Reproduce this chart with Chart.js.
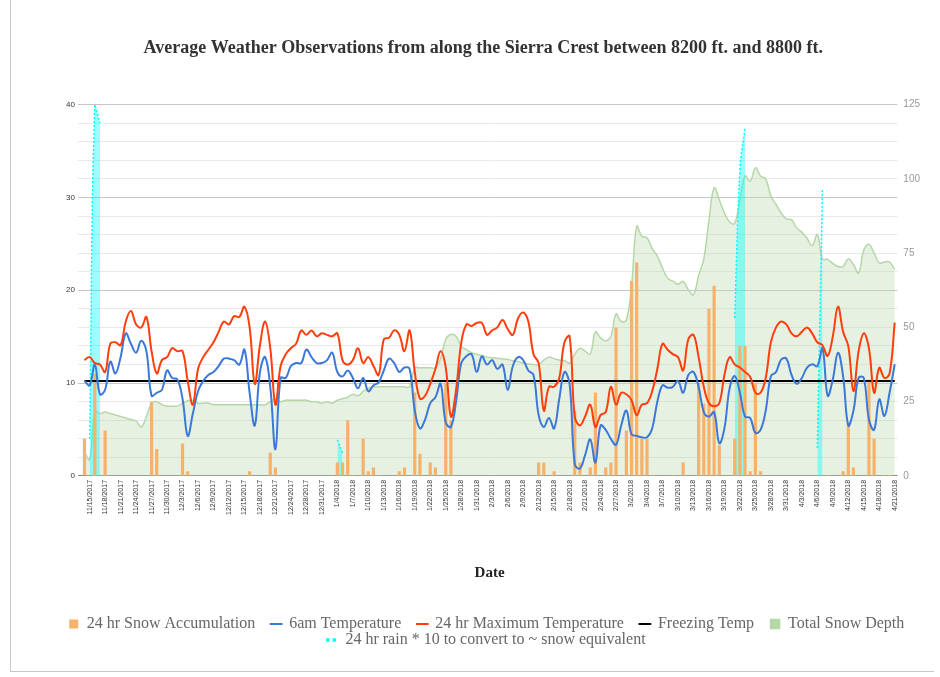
<!DOCTYPE html>
<html>
<head>
<meta charset="utf-8">
<script src="https://cdn.jsdelivr.net/npm/chart.js@4.4.1/dist/chart.umd.min.js"></script>
<style>
  html, body { margin: 0; padding: 0; background: #fff; }
  #wrap { position: relative; width: 940px; height: 677px; }
  #frame { position: absolute; left: 10px; top: 0; width: 923px; height: 671px;
           border-left: 1px solid #c8c8c8; border-bottom: 1px solid #c8c8c8; }
  canvas { position: absolute; left: 0; top: 0; }
</style>
</head>
<body>
<div id="wrap">
  <div id="frame"></div>
  <canvas id="chart" width="940" height="677"></canvas>
</div>
<script>
const _ = null;

// one category per observation day (12/25 and 1/1 missing, 3/3 twice)
const dates = [
  "11/14/2017","11/15/2017","11/16/2017","11/17/2017","11/18/2017","11/19/2017","11/20/2017","11/21/2017","11/22/2017","11/23/2017",
  "11/24/2017","11/25/2017","11/26/2017","11/27/2017","11/28/2017","11/29/2017","11/30/2017","12/1/2017","12/2/2017","12/3/2017",
  "12/4/2017","12/5/2017","12/6/2017","12/7/2017","12/8/2017","12/9/2017","12/10/2017","12/11/2017","12/12/2017","12/13/2017",
  "12/14/2017","12/15/2017","12/16/2017","12/17/2017","12/18/2017","12/19/2017","12/20/2017","12/21/2017","12/22/2017","12/23/2017",
  "12/24/2017","12/26/2017","12/27/2017","12/28/2017","12/29/2017","12/30/2017","12/31/2017","1/2/2018","1/3/2018","1/4/2018",
  "1/5/2018","1/6/2018","1/7/2018","1/8/2018","1/9/2018","1/10/2018","1/11/2018","1/12/2018","1/13/2018","1/14/2018",
  "1/15/2018","1/16/2018","1/17/2018","1/18/2018","1/19/2018","1/20/2018","1/21/2018","1/22/2018","1/23/2018","1/24/2018",
  "1/25/2018","1/26/2018","1/27/2018","1/28/2018","1/29/2018","1/30/2018","1/31/2018","2/1/2018","2/2/2018","2/3/2018",
  "2/4/2018","2/5/2018","2/6/2018","2/7/2018","2/8/2018","2/9/2018","2/10/2018","2/11/2018","2/12/2018","2/13/2018",
  "2/14/2018","2/15/2018","2/16/2018","2/17/2018","2/18/2018","2/19/2018","2/20/2018","2/21/2018","2/22/2018","2/23/2018",
  "2/24/2018","2/25/2018","2/26/2018","2/27/2018","2/28/2018","3/1/2018","3/2/2018","3/3/2018","3/3/2018","3/4/2018",
  "3/5/2018","3/6/2018","3/7/2018","3/8/2018","3/9/2018","3/10/2018","3/11/2018","3/12/2018","3/13/2018","3/14/2018",
  "3/15/2018","3/16/2018","3/17/2018","3/18/2018","3/19/2018","3/20/2018","3/21/2018","3/22/2018","3/23/2018","3/24/2018",
  "3/25/2018","3/26/2018","3/27/2018","3/28/2018","3/29/2018","3/30/2018","3/31/2018","4/1/2018","4/2/2018","4/3/2018",
  "4/4/2018","4/5/2018","4/6/2018","4/7/2018","4/8/2018","4/9/2018","4/10/2018","4/11/2018","4/12/2018","4/13/2018",
  "4/14/2018","4/15/2018","4/16/2018","4/17/2018","4/18/2018","4/19/2018","4/20/2018","4/21/2018"
];

// 24 hr snow accumulation (left axis)
const snowAccum = [
  4, 0, 11, 0, 4.9, 0, 0, 0, 0, 0,
  0, 0, 0, 8, 2.9, 0, 0, 0, 0, 3.5,
  0.5, 0, 0, 0, 0, 0, 0, 0, 0, 0,
  0, 0, 0.5, 0, 0, 0, 2.5, 0.9, 0, 0,
  0, 0, 0, 0, 0, 0, 0, 0, 0, 1.45,
  1.45, 6, 0.1, 0, 4, 0.5, 0.9, 0.1, 0, 0,
  0, 0.5, 0.9, 0, 9, 2.4, 0, 1.45, 0.9, 0,
  10, 6, 0, 0, 0, 0, 0, 0, 0, 0,
  0, 0, 0, 0, 0, 0, 0, 0, 1.45, 1.45,
  0, 0.5, 0, 0, 0, 7, 1.45, 0, 0.9, 9,
  0, 0.9, 1.45, 16, 0, 4.9, 21, 23, 4, 4,
  0.1, 0, 0, 0, 0.1, 0, 1.45, 0, 0, 10,
  7.8, 18, 20.5, 3.3, 0, 0, 4, 14, 14, 0.5,
  10, 0.5, 0, 0, 0, 0, 0, 0, 0, 0,
  0, 0, 0, 0, 0.1, 0, 0, 0.5, 5.8, 0.9,
  0, 0, 10.4, 4, 0, 0.1, 0.1, 0
];

// 6am temperature (right axis, deg F)
const temp6am = [
  32, 30.5, 37.5, 27.5, 29, 38.5, 34.5, 40, 48, 44.5,
  41.5, 45.5, 42, 27, 28, 29, 35.5, 33, 32.5, 26,
  13.5, 21, 28.5, 32, 34, 35, 37, 39.5, 39.5, 39,
  37.5, 42.5, 28, 17, 35, 40, 30, 9, 33, 33,
  37, 38, 38, 42.5, 40, 38, 38, 39, 41.5, 35,
  33.5, 35.5, 33, 29.5, 33, 28.5, 30.5, 31.5, 35.5, 39.5,
  38, 35, 36.5, 36, 22, 16, 19, 24.5, 26.5, 31,
  18, 16.5, 25, 38, 40.3, 41, 35, 40.3, 37.5, 39,
  36, 37.5, 29, 37, 40, 39, 35.5, 34, 20.5, 16.5,
  19.5, 16, 26, 35, 31, 4, 2.5, 7, 12.3, 4.5,
  17, 15.5, 12.5, 10.5, 17, 22, 14, 13.5, 13, 13,
  16, 25, 30.5, 29.7, 30, 32, 28, 34, 35, 30,
  21.5, 20, 21.5, 11, 16, 29.5, 33.6, 28, 20, 19.5,
  14.5, 15.5, 22, 33.6, 35, 39.2, 39.5, 34, 31, 33,
  36.5, 37.6, 37, 43, 27, 32.5, 41.5, 33.5, 17, 22,
  33, 33, 19, 15.5, 25.8, 20.2, 28, 37.6
];

// 24 hr maximum temperature (right axis, deg F)
const tempMax = [
  39, 40, 38, 37.5, 35, 44.5, 45, 44, 52, 55.5,
  51, 50, 53.5, 42, 34.5, 39, 40, 43, 42, 42,
  32, 24, 36, 40, 42.5, 45, 48.5, 52, 51, 53.8,
  53.5, 57, 50, 31, 44, 52, 43, 24, 37, 41,
  43, 44.5, 49, 47.5, 49, 47, 48, 47.5, 47, 48,
  39, 37.5, 39, 43, 38, 40, 37, 34, 46, 46.5,
  49, 47.5, 42, 49, 35, 26, 27, 31, 36, 42,
  36.5, 20, 29, 44.8, 51, 50.5, 51.5, 51.5, 47.5, 49,
  50, 52.5, 49.5, 47.5, 53, 55, 52, 41, 38, 22,
  30, 30, 33, 45, 47, 20, 17, 20, 24, 16.5,
  20.5, 21.5, 30, 24, 28, 27.5, 25.5, 20.5, 24, 24.5,
  28.5, 36, 44.5, 42.5, 41, 40, 35.5, 46, 47.5, 40,
  30, 24.5, 23.5, 24.5, 34, 40, 37.5, 36.5, 35, 33.3,
  28, 28, 33, 45, 50, 52, 51, 48, 47, 48.5,
  50, 48, 45, 44, 40.4, 47, 57, 48.5, 43.7, 28.6,
  42, 48, 43, 28, 36.4, 33, 34.5, 51.6
];

// total snow depth (right axis, inches)
const snowDepth = [
  8, 5.5, 22, 21, 21.5, 21, 20.5, 20, 19.5, 19,
  18.5, 16.5, 20, 24.5, 25, 24, 23.5, 23.5, 23.5, 24.5,
  25.3, 25.5, 24.5, 24.5, 24.5, 24, 24, 24, 24, 24,
  24, 24, 24, 24, 24, 24, 25, 26, 25, 25.5,
  25.5, 25.5, 25.5, 25.5, 25, 25, 24.5, 25, 24.5, 25.5,
  26, 26.5, 27.5, 27, 28.5, 29.5, 30, 30, 30, 30,
  30, 30, 30, 30, 36.4, 36.4, 36.4, 36.4, 36.4, 39.5,
  46, 47.6, 47, 43.7, 42.5, 41.5, 41, 40.5, 40, 39.8,
  39.6, 39.4, 39.2, 38.8, 38.5, 38, 37.7, 37.5, 37.5, 39,
  40, 39.5, 39, 38.8, 38, 41, 43, 42, 41, 48.5,
  46.5, 45.5, 47, 54.5, 52, 52.5, 64, 84, 80.7, 80.2,
  76.5, 74, 70, 66.5, 65.6, 64.5, 65.5, 62.7, 61, 67.5,
  73, 86, 97, 93, 88.5, 85.5, 85, 93, 101, 99.2,
  103.7, 101, 100, 94.2, 91.4, 88.5, 86.5, 86.3, 83.5, 82,
  80, 77.5, 81.3, 73, 72.9, 71.5, 70.5, 70.5, 73, 71.2,
  68.3, 76, 78, 75, 71.7, 72, 72, 69.5
];

// 24 hr rain * 10 (left axis), null on dry days
const rain10 = [
  _, 4, 40, 38, _, _, _, _, _, _,
  _, _, _, _, _, _, _, _, _, _,
  _, _, _, _, _, _, _, _, _, _,
  _, _, _, _, _, _, _, _, _, _,
  _, _, _, _, _, _, _, _, _, 3.9,
  2.5, _, _, _, 30.6, _, _, _, _, _,
  _, _, _, _, _, _, _, _, _, _,
  _, _, _, _, _, _, _, _, _, _,
  _, _, _, _, _, _, _, _, _, _,
  _, _, _, _, _, _, _, _, _, _,
  _, _, _, _, _, _, _, _, _, _,
  _, _, _, _, _, _, _, _, 2, _,
  _, _, _, _, _, _, 17, 33, 37.5, _,
  _, _, _, _, _, _, _, _, _, _,
  _, _, 3, 31, _, _, _, _, _, _,
  _, _, _, _, _, _, _, _
];

const freezingTemp = dates.map(() => 32);

const serif = "'Liberation Serif', 'Times New Roman', serif";
const sans = "'Liberation Sans', Arial, sans-serif";

const ctx = document.getElementById("chart");

new Chart(ctx, {
  type: "bar",
  data: {
    labels: dates,
    datasets: [
      {
        type: "bar",
        label: "24 hr Snow Accumulation",
        data: snowAccum,
        yAxisID: "y",
        backgroundColor: "#f6b26b",
        borderWidth: 0,
        barPercentage: 0.62,
        categoryPercentage: 1,
        pointStyle: "rect",
        order: 3,
      },
      {
        type: "line",
        label: "6am Temperature",
        data: temp6am,
        yAxisID: "y1",
        borderColor: "#3c78d8",
        backgroundColor: "#3c78d8",
        borderWidth: 2,
        pointRadius: 0,
        tension: 0.4,
        fill: false,
        pointStyle: "line",
        order: 1,
      },
      {
        type: "line",
        label: "24 hr Maximum Temperature",
        data: tempMax,
        yAxisID: "y1",
        borderColor: "#ff3d0d",
        backgroundColor: "#ff3d0d",
        borderWidth: 2,
        pointRadius: 0,
        tension: 0.4,
        fill: false,
        pointStyle: "line",
        order: 0,
      },
      {
        type: "line",
        label: "Freezing Temp",
        data: freezingTemp,
        yAxisID: "y1",
        borderColor: "#000",
        backgroundColor: "#000",
        borderWidth: 2,
        pointRadius: 0,
        fill: false,
        pointStyle: "line",
        order: 2,
      },
      {
        type: "line",
        label: "Total Snow Depth",
        data: snowDepth,
        yAxisID: "y1",
        borderColor: "#b6d7a8",
        backgroundColor: "rgba(182, 215, 168, 0.35)",
        borderWidth: 1.5,
        pointRadius: 0,
        tension: 0.4,
        fill: "origin",
        pointStyle: "rect",
        order: 6,
      },
      {
        type: "line",
        label: "24 hr rain * 10 to convert to ~ snow equivalent",
        data: rain10,
        yAxisID: "y",
        borderColor: "#00ffff",
        backgroundColor: "rgba(0, 255, 255, 0.4)",
        borderWidth: 1.5,
        borderDash: [2, 2],
        pointRadius: 0.8,
        pointBorderWidth: 0,
        pointBackgroundColor: "#00ffff",
        tension: 0.4,
        spanGaps: false,
        fill: "origin",
        pointStyle: "line",
        order: 5,
      },
    ],
  },
  options: {
    responsive: false,
    animation: false,
    layout: { padding: { top: 38, left: 63, right: 14, bottom: 19 } },
    plugins: {
      title: {
        display: true,
        // trailing space nudges the centred title left, as in the original
        text: "Average Weather Observations from along the Sierra Crest between 8200 ft. and 8800 ft.\u2003 ",
        color: "#333",
        font: { family: serif, size: 18, weight: "bold" },
        padding: { top: 0, bottom: 45 },
      },
      legend: {
        position: "bottom",
        labels: {
          usePointStyle: true,
          boxWidth: 10,
          boxHeight: 9,
          padding: 0,
          color: "#666",
          font: { family: serif, size: 16 },
          sort: (a, b) => a.datasetIndex - b.datasetIndex,
          // trailing em space gives the gap between items
          generateLabels: (chart) =>
            Chart.defaults.plugins.legend.labels.generateLabels(chart).map(item => {
              const out = { ...item, text: item.text + "\u2003" };
              if (item.datasetIndex === 4) out.fillStyle = "#b6d7a8";
              if (item.datasetIndex === 5) { out.lineWidth = 3.5; out.lineDash = [3.5, 3]; }
              return out;
            }),
        },
      },
      tooltip: { enabled: false },
    },
    scales: {
      x: {
        grid: { display: false, drawTicks: false },
        border: { display: false },
        ticks: {
          autoSkip: false,
          maxRotation: 90,
          minRotation: 90,
          padding: 4,
          color: "#333",
          font: { family: sans, size: 7 },
          callback: (v, i) => (i % 3 === 1 ? dates[i] : ""),
        },
        title: {
          display: true,
          text: "Date",
          color: "#222",
          font: { family: serif, size: 15, weight: "bold" },
          padding: { top: 45, bottom: 34 },
        },
      },
      y: {
        position: "left",
        min: 0,
        max: 40,
        border: { display: false },
        grid: {
          tickLength: 4,
          color: (c) => {
            const v = c.tick.value;
            if (v === 0) return "#888";
            return v % 10 === 0 ? "#c6c6c6" : "#e9e9e9";
          },
        },
        ticks: {
          stepSize: 2,
          padding: 3,
          color: "#333",
          font: { family: sans, size: 8 },
          callback: (v) => (v % 10 === 0 ? v : ""),
        },
      },
      y1: {
        position: "right",
        min: 0,
        max: 125,
        border: { display: false },
        grid: { display: false, drawTicks: false },
        ticks: {
          stepSize: 25,
          padding: 6,
          color: "#999",
          font: { family: sans, size: 10 },
        },
      },
    },
  },
});
</script>
</body>
</html>
